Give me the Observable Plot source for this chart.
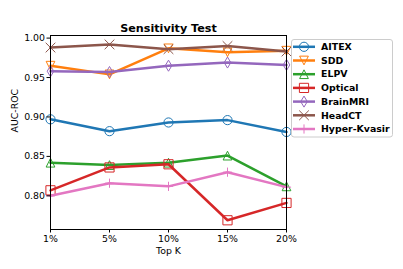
<!DOCTYPE html>
<html>
<head>
<meta charset="utf-8">
<script src="https://cdn.jsdelivr.net/npm/d3@7"></script>
<script src="https://cdn.jsdelivr.net/npm/@observablehq/plot@0.6"></script>
<style>
  body { margin: 0; background: #fff; }
  #wrap { position: relative; width: 403px; height: 269px; font-family: "DejaVu Sans", sans-serif; }
  #legend { position: absolute; left: 0; top: 0; }
</style>
</head>
<body>
<div id="wrap"></div>
<script>
const topK = ["1%", "5%", "10%", "15%", "20%"];
const seriesNames = ["AITEX", "SDD", "ELPV", "Optical", "BrainMRI", "HeadCT", "Hyper-Kvasir"];
const seriesColors = ["#1f77b4", "#ff7f0e", "#2ca02c", "#d62728", "#9467bd", "#8c564b", "#e377c2"];
const aitex = [0.897, 0.882, 0.893, 0.896, 0.881];
const sdd = [0.965, 0.954, 0.987, 0.982, 0.984];
const elpv = [0.842, 0.839, 0.842, 0.851, 0.812];
const optical = [0.807, 0.836, 0.840, 0.769, 0.791];
const brainmri = [0.958, 0.957, 0.965, 0.969, 0.966];
const headct = [0.988, 0.992, 0.986, 0.990, 0.983];
const hyperkvasir = [0.800, 0.816, 0.812, 0.830, 0.811];
const yTicks = [0.80, 0.85, 0.90, 0.95, 1.00];

const seriesValues = [aitex, sdd, elpv, optical, brainmri, headct, hyperkvasir];
const rows = [];
seriesNames.forEach((name, i) => topK.forEach((k, j) => rows.push({series: name, k, v: seriesValues[i][j]})));

const R = s => Math.sqrt(s / Math.PI);
const symCircle = {draw(c, s) { const r = R(s); c.moveTo(r, 0); c.arc(0, 0, r, 0, 2 * Math.PI); c.closePath(); }};
const symTriDown = {draw(c, s) { const r = R(s) * 0.95; c.moveTo(-r, -r); c.lineTo(r, -r); c.lineTo(0, r); c.closePath(); }};
const symTriUp = {draw(c, s) { const r = R(s) * 0.95; c.moveTo(0, -r); c.lineTo(r, r); c.lineTo(-r, r); c.closePath(); }};
const symSquare = {draw(c, s) { const r = R(s); c.rect(-r, -r, 2 * r, 2 * r); }};
const symThinDiamond = {draw(c, s) { const r = R(s) * 1.2; const w = r * 0.6; c.moveTo(0, -r); c.lineTo(w, 0); c.lineTo(0, r); c.lineTo(-w, 0); c.closePath(); }};
const symTimes = {draw(c, s) { const r = R(s) * 1.05; c.moveTo(-r, -r); c.lineTo(r, r); c.moveTo(-r, r); c.lineTo(r, -r); }};
const symPlus = {draw(c, s) { const r = R(s); c.moveTo(0, -r); c.lineTo(0, r); c.moveTo(-r, 0); c.lineTo(r, 0); }};
const seriesSymbols = [symCircle, symTriDown, symTriUp, symSquare, symThinDiamond, symTimes, symPlus];

const font = "DejaVu Sans";
const marks = [];
seriesNames.forEach((name, i) => {
  const d = rows.filter(r => r.series === name);
  marks.push(Plot.line(d, {x: "k", y: "v", stroke: seriesColors[i], strokeWidth: 2.5}));
  marks.push(Plot.dot(d, {x: "k", y: "v", symbol: seriesSymbols[i], r: 4.6, stroke: seriesColors[i], fill: "none", strokeWidth: 1}));
});

const chart = Plot.plot({
  width: 403,
  height: 269,
  marginLeft: 50,
  marginRight: 117,
  marginTop: 35,
  marginBottom: 40,
  style: {fontFamily: font, fontSize: "9.4px", color: "black", background: "white", overflow: "visible"},
  x: {type: "point", domain: topK, padding: 0},
  y: {domain: [0.7573, 1.0033]},
  marks: [
    ...marks,
    Plot.frame({stroke: "black", strokeWidth: 1}),
    Plot.axisX({tickSize: 3.5, tickPadding: 2.5, label: null, stroke: "black"}),
    Plot.axisY({ticks: yTicks, tickFormat: d3.format(".2f"), tickSize: 3.5, tickPadding: 2, label: null, stroke: "black"}),
    Plot.text(["Top K"], {frameAnchor: "bottom", dy: 24, text: d => d, fill: "black"}),
    Plot.text(["AUC-ROC"], {frameAnchor: "left", dx: -36, rotate: -90, text: d => d, fill: "black"}),
    Plot.text(["Sensitivity Test"], {frameAnchor: "top", dy: -11, text: d => d, fontWeight: "bold", fontSize: 11.2, fill: "black"})
  ]
});
document.getElementById("wrap").appendChild(chart);

// Legend
const lg = d3.select("#wrap").append("svg").attr("id", "legend")
  .attr("width", 403).attr("height", 269);
const gx = 291, gy = 39.5;
lg.append("rect").attr("x", gx + 0.5).attr("y", gy).attr("width", 101).attr("height", 97.5)
  .attr("rx", 2.5).attr("fill", "white").attr("fill-opacity", 0.8).attr("stroke", "#cccccc").attr("stroke-width", 1);
seriesNames.forEach((name, i) => {
  const cy = gy + 7.3 + i * 13.7;
  const g = lg.append("g");
  g.append("line").attr("x1", gx + 2).attr("x2", gx + 24).attr("y1", cy).attr("y2", cy)
    .attr("stroke", seriesColors[i]).attr("stroke-width", 2.5);
  const p = d3.path();
  seriesSymbols[i].draw(p, Math.PI * 4.6 * 4.6);
  g.append("path").attr("d", p.toString()).attr("transform", `translate(${gx + 13},${cy})`)
    .attr("fill", "none").attr("stroke", seriesColors[i]).attr("stroke-width", 1);
  g.append("text").attr("x", gx + 30).attr("y", cy).attr("dy", "0.35em")
    .attr("font-family", font).attr("font-size", "9.4px").attr("font-weight", "bold").attr("fill", "black")
    .text(name);
});
</script>
</body>
</html>
